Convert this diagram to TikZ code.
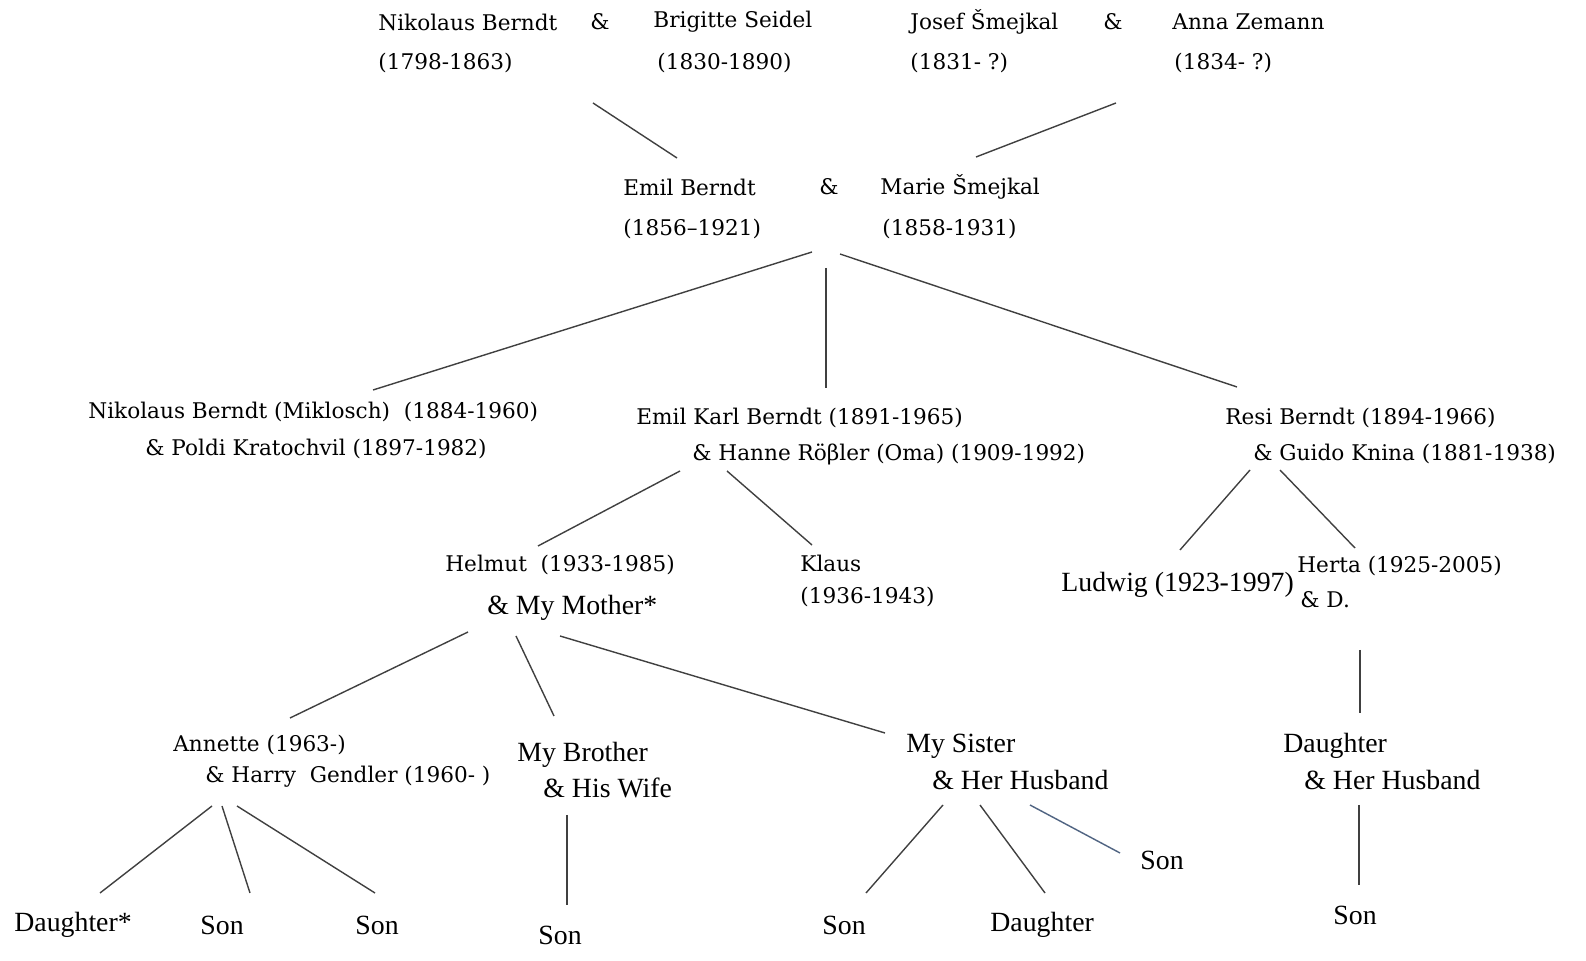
\documentclass[tikz,border=0pt]{standalone}
\usepackage{fontspec}
\setmainfont{Liberation Serif}
\newfontfamily\oldfont{DejaVu Serif}
\usepackage{tikz}
\usetikzlibrary{calc}
\tikzset{%
  oldname/.style={anchor=west, inner sep=0pt, font=\oldfont\fontsize{10.8}{12}\selectfont},
  newname/.style={anchor=west, inner sep=0pt, font=\fontsize{13.9}{16}\selectfont},
  kinline/.style={draw=black!75, line width=0.7pt}
}
\begin{document}
\begin{tikzpicture}[x=0.5pt, y=-0.5pt]
  \useasboundingbox [fill=white] (0,0) rectangle (1586,961);

% old generations
\node (nkA)  [oldname] at (378,22) {Nikolaus Berndt};
\node (nkAd) [oldname] at (378,63) {(1798-1863)};
\node (ampA) [oldname] at (590,22) {\&};
\node (bsA)  [oldname] at (653,22) {Brigitte Seidel};
\node (bsAd) [oldname] at (657,63) {(1830-1890)};
\node (jsA)  [oldname] at (910,22) {Josef Šmejkal};
\node (jsAd) [oldname] at (910,63) {(1831- ?)};
\node (ampB) [oldname] at (1103,22) {\&};
\node (azA)  [oldname] at (1172,22) {Anna Zemann};
\node (azAd) [oldname] at (1174,63) {(1834- ?)};

\node (ebB)  [oldname] at (623,187) {Emil Berndt};
\node (ebBd) [oldname] at (623,229) {(1856–1921)};
\node (ampC) [oldname] at (819,187) {\&};
\node (msB)  [oldname] at (880,187) {Marie Šmejkal};
\node (msBd) [oldname] at (882,229) {(1858-1931)};

\node (nbC)  [oldname] at (88,412)   {Nikolaus Berndt (Miklosch)\ \ (1884-1960)};
\node (nbCs) [oldname] at (145,449)  {\& Poldi Kratochvil (1897-1982)};
\node (ekC)  [oldname] at (636,418)  {Emil Karl Berndt (1891-1965)};
\node (ekCs) [oldname] at (692,454)  {\& Hanne Röβler (Oma) (1909-1992)};
\node (rbC)  [oldname] at (1225,418) {Resi Berndt (1894-1966)};
\node (rbCs) [oldname] at (1253,454) {\& Guido Knina (1881-1938)};

\node (heD)  [oldname] at (445,565)  {Helmut\ \ (1933-1985)};
\node (klD)  [oldname] at (800,563)  {Klaus};
\node (klDd) [oldname] at (800,597)  {(1936-1943)};
\node (htD)  [oldname] at (1297,566) {Herta (1925-2005)};
\node (htDs) [oldname] at (1300,600) {\& D.};
\node (anE)  [oldname] at (173,745)  {Annette (1963-)};
\node (anEs) [oldname] at (205,777)  {\& Harry\ \ Gendler (1960- )};

% newer generations
\node (heDs) [newname] at (487,608)  {\& My Mother*};
\node (luD)  [newname] at (1061,585) {Ludwig (1923-1997)};
\node (brE)  [newname] at (517,755)  {My Brother};
\node (brEs) [newname] at (543,788)  {\& His Wife};
\node (siE)  [newname] at (906,746)  {My Sister};
\node (siEs) [newname] at (932,780)  {\& Her Husband};
\node (daE)  [newname] at (1283,746) {Daughter};
\node (daEs) [newname] at (1304,780) {\& Her Husband};

\node (kA) [newname] at (14,925)   {Daughter*};
\node (kB) [newname] at (200,925)  {Son};
\node (kC) [newname] at (355,925)  {Son};
\node (kD) [newname] at (538,935)  {Son};
\node (kE) [newname] at (822,925)  {Son};
\node (kF) [newname] at (990,925)  {Daughter};
\node (kG) [newname] at (1140,860) {Son};
\node (kH) [newname] at (1333,915) {Son};

% line ends
\foreach \n/\x/\y in {a1/593/103, a2/677/158, b1/1116/103, b2/976/157,
    c0/812/252, c1/373/390, c2/826/268, c3/826/388, c4/840/254, c5/1237/387,
    d0/680/471, d1/538/546, d2/727/471, d3/812/545,
    e0/1250/470, e1/1180/550, e2/1280/470, e3/1355/548,
    f0/468/632, f1/290/718, f2/516/636, f3/554/716, f4/560/636, f5/885/733,
    g0/1360/650, g1/1360/713,
    h0/212/806, h1/100/893, h2/222/806, h3/250/893, h4/237/806, h5/375/893,
    i0/567/815, i1/567/905,
    j0/943/805, j1/866/893, j2/980/805, j3/1045/893,
    k0/1359/805, k1/1359/885} {
  \coordinate (\n) at (\x,\y);
}

\foreach \s/\t in {a1/a2, b1/b2, c0/c1, c2/c3, c4/c5, d0/d1, d2/d3, e0/e1, e2/e3,
    f0/f1, f2/f3, f4/f5, g0/g1, h0/h1, h2/h3, h4/h5, i0/i1, j0/j1, j2/j3, k0/k1} {
  \draw [kinline] (\s) -- (\t);
}

\coordinate (j4) at (1030,805);
\coordinate (j5) at (1120,853);
\draw [kinline, draw={rgb,255:red,80;green,100;blue,130}] (j4) -- (j5);
\end{tikzpicture}
\end{document}
